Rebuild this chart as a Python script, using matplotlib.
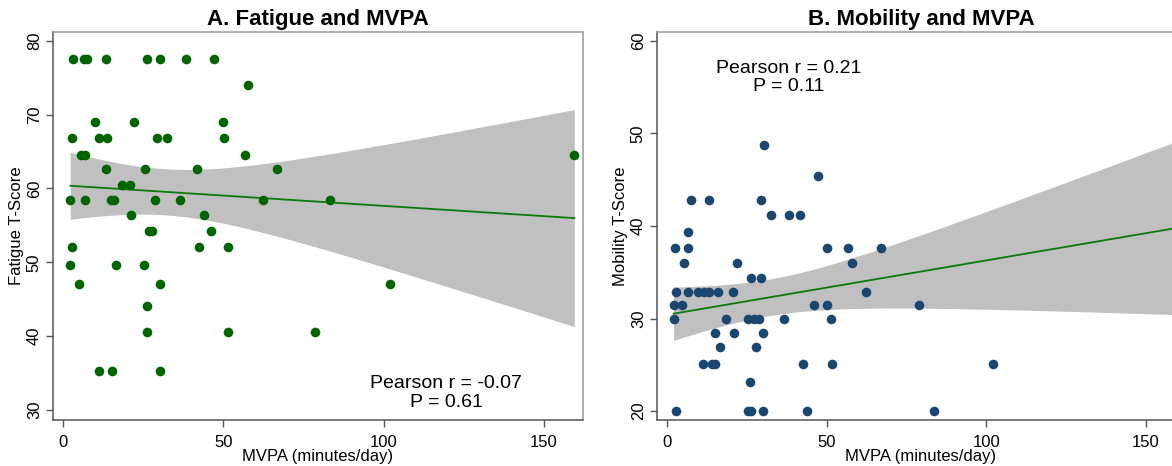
import numpy as np
import matplotlib
matplotlib.use("Agg")
import matplotlib.pyplot as plt

plt.rcParams['font.family'] = ['Liberation Sans', 'DejaVu Sans']

# Panel A: fatigue vs MVPA
fat_mvpa = [3, 6.5, 7.5, 13.3, 26.2, 30.3, 38.2, 47.1,
            57.7,
            9.8, 22.2, 50.0,
            2.6, 11.3, 13.7, 29.4, 32.5, 50.1,
            5.4, 6.8, 56.7, 159.5,
            13.3, 25.4, 41.6, 66.8,
            18.3, 20.7,
            2.2, 6.8, 14.8, 15.9, 28.7, 36.5, 62.4, 83.3,
            21.0, 43.8,
            26.8, 27.8, 46.1,
            2.8, 42.5, 51.4,
            2.2, 16.5, 25.3,
            4.8, 30.2, 102.0,
            26.0,
            26.0, 51.4, 78.6,
            11.3, 15.2, 30.2]
fat_score = [77.6] * 8 + [74.0] + [69.0] * 3 + [66.8] * 6 + [64.6] * 4 + \
            [62.6] * 4 + [60.5] * 2 + [58.5] * 8 + [56.4] * 2 + [54.3] * 3 + \
            [52.1] * 3 + [49.7] * 3 + [47.1] * 3 + [44.1] + [40.6] * 3 + [35.3] * 3

# Panel B: mobility vs MVPA
mob_mvpa = [30.2,
            47.1,
            7.6, 13.2, 29.4,
            32.5, 38.0, 41.5,
            6.5,
            2.5, 6.6, 49.9, 56.6, 66.9,
            5.3, 22.0, 57.9,
            26.2, 29.5,
            2.8, 6.5, 9.6, 11.4, 13.2, 15.8, 20.6, 62.4,
            2.0, 4.6, 46.1, 50.2, 78.8,
            2.1, 18.4, 25.2, 27.1, 28.8, 36.6, 51.4,
            15.0, 20.9, 30.0,
            16.4, 27.7,
            11.2, 13.9, 15.1, 42.5, 51.5, 102.2,
            25.9,
            2.7, 25.3, 26.2, 30.0, 43.8, 83.5,
            160.0]
mob_score = [48.8] + [45.4] + [42.8] * 3 + [41.2] * 3 + [39.3] + [37.6] * 5 + \
            [36.0] * 3 + [34.4] * 2 + [32.9] * 8 + [31.5] * 5 + [30.0] * 7 + \
            [28.4] * 3 + [26.9] * 2 + [25.1] * 6 + [23.1] + [20.0] * 6 + [57.2]

titles = ["A. Fatigue and MVPA", "B. Mobility and MVPA"]
ylabels = ["Fatigue T-Score", "Mobility T-Score"]
notes = ["Pearson r = -0.07\nP = 0.61", "Pearson r = 0.21\nP = 0.11"]


def fit_ci(x, y):
    # linear fit with 95% CI of the mean prediction (like Stata lfitci)
    x = np.asarray(x, float)
    y = np.asarray(y, float)
    n = len(x)
    b, a = np.polyfit(x, y, 1)
    resid = y - (a + b * x)
    s = np.sqrt(np.sum(resid ** 2) / (n - 2))
    sxx = np.sum((x - x.mean()) ** 2)
    xs = np.linspace(x.min(), x.max(), 200)
    yhat = a + b * xs
    se = s * np.sqrt(1.0 / n + (xs - x.mean()) ** 2 / sxx)
    t = 2.004
    return xs, yhat, yhat - t * se, yhat + t * se


fig = plt.figure(figsize=(11.72, 4.66), dpi=100)
ax1 = fig.add_axes([53 / 1172, 46 / 466, 530 / 1172, 388 / 466])
ax2 = fig.add_axes([657 / 1172, 46 / 466, 528 / 1172, 388 / 466])

panels = [
    (ax1, fat_mvpa, fat_score, '#006400', (28.64, 81.2), [30, 40, 50, 60, 70, 80], (119.5, 32.25)),
    (ax2, mob_mvpa, mob_score, '#1a476f', (19.03, 60.97), [20, 30, 40, 50, 60], (37.9, 56.05)),
]

for i, (ax, xv, yv, col, ylim, yticks, note_xy) in enumerate(panels):
    xs, yhat, lo, hi = fit_ci(xv, yv)
    ax.fill_between(xs, lo, hi, color='#c0c0c0', lw=0, zorder=1)
    ax.scatter(xv, yv, s=48, color=col, lw=0, zorder=3)
    ax.plot(xs, yhat, color='#0a7a0a', lw=1.3, zorder=2)

    ax.set_xlim(-3.2, 162.2)
    ax.set_ylim(*ylim)
    ax.set_xticks([0, 50, 100, 150])
    ax.set_yticks(yticks)
    ax.tick_params(axis='both', direction='out', length=5, width=1, color='#555555',
                   labelsize=12)
    ax.tick_params(axis='x', pad=6)
    ax.tick_params(axis='y', pad=3)
    for lab in ax.get_yticklabels():
        lab.set_rotation(90)
        lab.set_va('center')
    for side in ['top', 'right']:
        ax.spines[side].set_color('#999999')
    for side in ['left', 'bottom']:
        ax.spines[side].set_color('#555555')
    for sp in ax.spines.values():
        sp.set_linewidth(1.1)

    ax.set_xlabel("MVPA (minutes/day)", fontsize=12, labelpad=-1)
    ax.set_ylabel(ylabels[i], fontsize=12, labelpad=2)
    ax.set_title(titles[i], fontsize=16, fontweight='bold', pad=5)
    ax.text(note_xy[0], note_xy[1], notes[i], fontsize=14, ha='center', va='center',
            multialignment='center', linespacing=1.15, zorder=4)

fig.savefig("out.png", dpi=100)
